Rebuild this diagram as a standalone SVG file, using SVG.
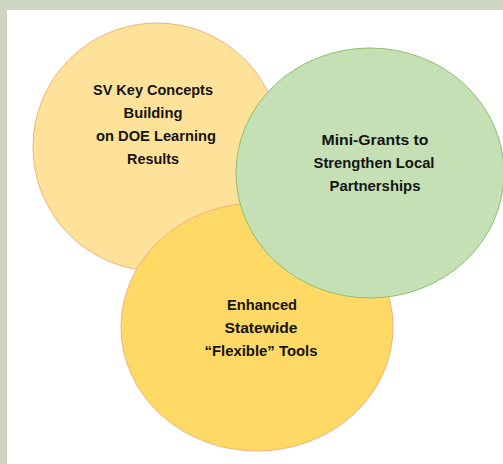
<svg xmlns="http://www.w3.org/2000/svg" width="503" height="464" viewBox="0 0 503 464">
<style>
.t{font-family:"Liberation Sans",Arial,sans-serif;font-weight:bold;font-size:15.5px;fill:#141414;text-anchor:middle}
</style>
<rect x="0" y="0" width="503" height="464" fill="#cfd5c3"/>
<rect x="7" y="10" width="496" height="454" fill="#ffffff"/>
<g id="node-sv">
<ellipse cx="157" cy="147" rx="124" ry="124" fill="#ffe29a" stroke="#f1b27a" stroke-width="1"/>
<text class="t" x="153" y="95" textLength="120" lengthAdjust="spacingAndGlyphs">SV Key Concepts</text>
<text class="t" x="153" y="118" textLength="59" lengthAdjust="spacingAndGlyphs">Building</text>
<text class="t" x="156" y="141" textLength="120" lengthAdjust="spacingAndGlyphs">on DOE Learning</text>
<text class="t" x="153" y="164" textLength="52" lengthAdjust="spacingAndGlyphs">Results</text>
</g>
<g id="node-tools">
<ellipse cx="257" cy="327" rx="136" ry="124" fill="#ffd966" stroke="#f1b27a" stroke-width="1"/>
<text class="t" x="262" y="310" textLength="70" lengthAdjust="spacingAndGlyphs">Enhanced</text>
<text class="t" x="261" y="333" textLength="73" lengthAdjust="spacingAndGlyphs">Statewide</text>
<text class="t" x="261" y="356" textLength="113" lengthAdjust="spacingAndGlyphs">“Flexible” Tools</text>
</g>
<g id="node-grants">
<ellipse cx="370" cy="173" rx="134" ry="125" fill="#c5e0b4" stroke="#8fbf6e" stroke-width="1"/>
<text class="t" x="375" y="145" textLength="107" lengthAdjust="spacingAndGlyphs">Mini-Grants to</text>
<text class="t" x="374" y="168" textLength="121" lengthAdjust="spacingAndGlyphs">Strengthen Local</text>
<text class="t" x="375" y="191" textLength="91" lengthAdjust="spacingAndGlyphs">Partnerships</text>
</g>
<g id="connectors"></g>
</svg>
